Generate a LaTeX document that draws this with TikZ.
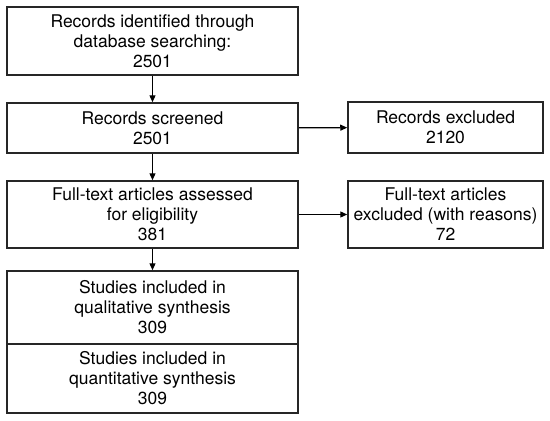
\documentclass[tikz,border=0pt]{standalone}
\usepackage{fontspec}
\setmainfont{TeX Gyre Heros}
\usetikzlibrary{positioning,arrows.meta}
\tikzstyle{stage}=[rectangle, draw=black!85, line width=1.5pt, align=center, inner sep=0pt, font=\fontsize{17.5}{20}\selectfont]
\tikzstyle{mainbox}=[style=stage, minimum width=291pt]
\tikzstyle{sidebox}=[style=stage, minimum width=195pt]
\tikzstyle{arrow}=[-{Triangle[length=7pt,width=6pt]}, draw=black, line width=1.2pt]

\begin{document}
\begin{tikzpicture}[x=1pt, y=-1pt]
            \useasboundingbox (0, 0) rectangle (550, 421);

            \node [style=mainbox, minimum height=68pt] (identified) at (152.5, 41) {Records identified through\\database searching:\\2501};
            \node [style=mainbox, minimum height=50pt] (screened) at (152.5, 128) {Records screened\\2501};
            \node [style=mainbox, minimum height=67pt] (fulltext) at (152.5, 214.5) {Full-text articles assessed\\for eligibility\\381};
            \node [style=mainbox, minimum height=73pt] (qualitative) at (152.5, 307.5) {Studies included in\\qualitative synthesis\\309};
            \node [style=mainbox, minimum height=69pt] (quantitative) at (152.5, 378.5) {Studies included in\\quantitative synthesis\\309};

            \node [style=sidebox, minimum height=51pt] (excluded) at (445.5, 127.5) {Records excluded\\2120};
            \node [style=sidebox, minimum height=67pt] (ftexcluded) at (445.5, 214.5) {Full-text articles\\excluded (with reasons)\\72};

            \draw [style=arrow] (identified) to (screened);
            \draw [style=arrow] (screened) to (fulltext);
            \draw [style=arrow] (fulltext) to (qualitative);
            \draw [style=arrow] (screened) to (excluded);
            \draw [style=arrow] (fulltext) to (ftexcluded);
        \end{tikzpicture}
\end{document}
